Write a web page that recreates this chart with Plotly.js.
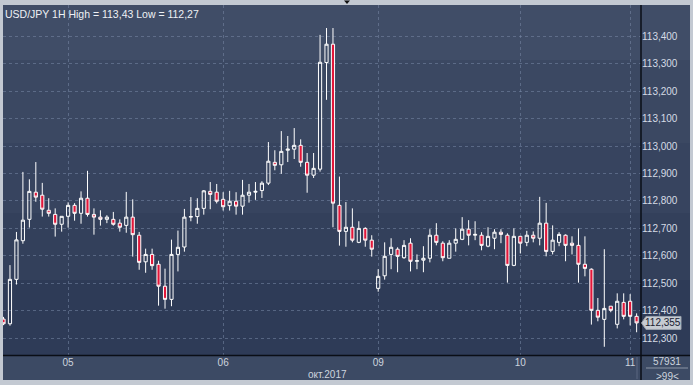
<!DOCTYPE html>
<html><head><meta charset="utf-8">
<script src="https://cdn.plot.ly/plotly-3.0.1.min.js"></script>
<style>html,body{margin:0;padding:0;background:#c3c9d2;}#chart{width:693px;height:385px;}</style>
</head><body><div id="chart"></div>
<script>
const symbol = 'USD/JPY 1H';
const openP = [112.369,112.352,112.514,112.655,112.733,112.832,112.821,112.766,112.751,112.715,
112.744,112.784,112.755,112.810,112.751,112.741,112.733,112.733,112.719,112.711,
112.741,112.675,112.578,112.605,112.569,112.489,112.441,112.605,112.632,112.741,
112.743,112.773,112.835,112.832,112.806,112.783,112.799,112.781,112.821,112.832,
112.838,112.865,112.941,112.932,112.985,112.989,113.003,112.941,112.894,112.916,
113.305,113.372,112.784,112.689,112.704,112.649,112.700,112.657,112.481,112.527,
112.605,112.624,112.593,112.646,112.580,112.584,112.591,112.675,112.646,112.591,
112.646,112.660,112.697,112.675,112.675,112.635,112.664,112.686,112.675,112.565,
112.671,112.649,112.675,112.664,112.719,112.616,112.649,112.675,112.646,112.638,
112.569,112.551,112.401,112.368,112.416,112.350,112.430,112.434,112.379];
const highP = [112.377,112.566,112.687,112.906,112.879,112.942,112.866,112.810,112.773,112.744,
112.795,112.792,112.835,112.910,112.773,112.766,112.748,112.760,112.733,112.833,
112.806,112.687,112.626,112.626,112.582,112.553,112.659,112.692,112.771,112.814,
112.810,112.840,112.869,112.862,112.832,112.837,112.832,112.877,112.862,112.869,
112.872,113.015,112.985,113.055,113.037,113.066,113.025,112.975,112.975,113.406,
113.431,113.431,112.889,112.796,112.773,112.726,112.704,112.675,112.551,112.649,
112.664,112.631,112.657,112.664,112.605,112.635,112.697,112.719,112.653,112.657,
112.700,112.741,112.730,112.726,112.686,112.704,112.697,112.697,112.682,112.700,
112.671,112.691,112.689,112.815,112.793,112.711,112.686,112.678,112.671,112.700,
112.671,112.554,112.446,112.624,112.416,112.463,112.463,112.460,112.390];
const lowP = [112.347,112.345,112.495,112.644,112.703,112.797,112.743,112.743,112.670,112.688,
112.703,112.728,112.717,112.743,112.677,112.710,112.719,112.710,112.688,112.684,
112.597,112.549,112.538,112.549,112.418,112.407,112.416,112.543,112.615,112.726,
112.717,112.750,112.770,112.791,112.765,112.765,112.750,112.750,112.794,112.804,
112.811,112.858,112.912,112.899,112.942,112.953,112.925,112.830,112.884,112.907,
113.169,112.704,112.637,112.633,112.649,112.646,112.633,112.597,112.469,112.513,
112.551,112.540,112.589,112.543,112.551,112.540,112.576,112.638,112.580,112.591,
112.615,112.657,112.638,112.657,112.620,112.631,112.624,112.646,112.502,112.562,
112.609,112.635,112.649,112.638,112.598,112.605,112.635,112.580,112.605,112.502,
112.525,112.349,112.361,112.268,112.394,112.335,112.368,112.346,112.321];
const closeP = [112.352,112.514,112.658,112.730,112.835,112.814,112.770,112.755,112.715,112.744,
112.784,112.755,112.810,112.751,112.741,112.733,112.741,112.715,112.704,112.741,
112.677,112.576,112.605,112.564,112.489,112.441,112.605,112.631,112.741,112.743,
112.773,112.837,112.824,112.799,112.779,112.799,112.781,112.821,112.832,112.835,
112.865,112.945,112.930,112.981,112.989,113.003,112.941,112.894,112.919,113.306,
113.372,112.792,112.689,112.704,112.657,112.700,112.657,112.624,112.525,112.598,
112.631,112.598,112.638,112.580,112.582,112.591,112.675,112.649,112.593,112.646,
112.660,112.697,112.675,112.678,112.638,112.671,112.686,112.678,112.565,112.671,
112.646,112.675,112.664,112.719,112.616,112.657,112.678,112.638,112.638,112.569,
112.554,112.401,112.376,112.408,112.401,112.434,112.379,112.379,112.355];
const dayTickIndex = [10, 34, 58, 80, 97];
const dayTickText = ['05', '06', '09', '10', '11'];
const monthLabel = 'окт.2017';
const priceTicks = [112.3,112.4,112.5,112.6,112.7,112.8,112.9,113.0,113.1,113.2,113.3,113.4];
const volumeText = '57931';
const counterText = '>99<';

const idx = openP.map((_, i) => i);
const fmt2 = v => v.toFixed(2).replace('.', ',');
const fmt3 = v => v.toFixed(3).replace('.', ',');
const hi = Math.max(...highP), lo = Math.min(...lowP);
const last = closeP[closeP.length - 1];

const PL = 3, PR = 641, PT = 5, PB = 355;
const Y0 = 112.238, Y1 = 113.515;
const xp = px => (px - PL) / (PR - PL);
const yp = py => (PB - py) / (PB - PT);
const lastP = (last - Y0) / (Y1 - Y0);
const hP = 6.5 / (PB - PT);

const bands = [[5,60,'#404d67'],[60,143,'#3b4862'],[143,213,'#37445f'],[213,280,'#33405b'],[280,356,'#2e3b57']];
const shapes = bands.map(b => ({type:'rect', xref:'paper', yref:'paper', x0:xp(3), x1:xp(690), y0:yp(b[1]), y1:yp(b[0]), fillcolor:b[2], line:{width:0}, layer:'below'}));
shapes.push({type:'rect', xref:'paper', yref:'paper', x0:xp(3), x1:xp(690), y0:yp(380), y1:yp(355), fillcolor:'#3c4a64', line:{width:0}, layer:'below'});
shapes.push({type:'line', xref:'paper', yref:'paper', x0:xp(3), x1:xp(690), y0:yp(355.5), y1:yp(355.5), line:{color:'#0a0e16', width:1.5}});
shapes.push({type:'line', xref:'paper', yref:'paper', x0:xp(641), x1:xp(641), y0:yp(5), y1:yp(380), line:{color:'#0a0e16', width:1.5}});
shapes.push({type:'line', xref:'paper', yref:'paper', x0:xp(637), x1:xp(637), y0:yp(357), y1:yp(379), line:{color:'#5b6780', width:1}});
shapes.push({type:'line', xref:'paper', yref:'paper', x0:xp(646), x1:xp(688), y0:yp(368), y1:yp(368), line:{color:'#8a94a5', width:1}});
shapes.push({type:'path', xref:'paper', yref:'paper', path:`M ${xp(344)} ${yp(0.5)} L ${xp(350)} ${yp(0.5)} L ${xp(347)} ${yp(4)} Z`, fillcolor:'#111', line:{width:0}});
// price marker
shapes.push({type:'path', xref:'paper', yref:'paper', path:`M ${xp(641.5)} ${lastP} L ${xp(646)} ${lastP+hP} L ${xp(681)} ${lastP+hP} L ${xp(681)} ${lastP-hP} L ${xp(646)} ${lastP-hP} Z`, fillcolor:'#c6cbd2', line:{color:'#9aa2ad', width:1}});

const trace = {
  type:'candlestick', x: idx, open: openP, high: highP, low: lowP, close: closeP,
  increasing:{line:{color:'#ffffff', width:1}, fillcolor:'rgba(0,0,0,0)'},
  decreasing:{line:{color:'#ffffff', width:1}, fillcolor:'#e2173a'},
  whiskerwidth: 0, hoverinfo:'skip'
};

const gridC = 'rgba(120,136,165,0.55)';
const ann = (px, py, text, color) => ({xref:'paper', yref:'paper', x:xp(px), y:yp(py), xanchor:'center', yanchor:'middle', text, showarrow:false, font:{size:10, color}});
const annotations = [
  ann(327, 374, monthLabel, '#cdd4de'),
  ann(667, 361, volumeText, '#cdd4de'),
  ann(667, 376, counterText, '#cdd4de'),
  {xref:'paper', yref:'paper', x:xp(663), y:lastP, xanchor:'center', yanchor:'middle', text:fmt3(last), showarrow:false, font:{size:10, color:'#1a2030'}}
];

const layout = {
  width:693, height:385,
  margin:{l:PL, r:693-PR, t:PT, b:385-PB, pad:0},
  paper_bgcolor:'#c3c9d2', plot_bgcolor:'rgba(0,0,0,0)',
  separators:',.',
  showlegend:false,
  font:{family:'Liberation Sans, Arial, sans-serif', size:10, color:'#d5dbe5'},
  title:{text:`${symbol} High = ${fmt2(hi)} Low = ${fmt2(lo)}`, xref:'container', yref:'container',
         x:5/693, xanchor:'left', y:1-14/385, yanchor:'middle', font:{size:10.5, color:'#eef1f5'}},
  xaxis:{range:[-0.08, 98.68], tickvals:dayTickIndex, ticktext:dayTickText, showgrid:true, gridcolor:gridC,
         griddash:'3px,3px', gridwidth:1, zeroline:false, showline:false, ticks:'', tickfont:{size:10, color:'#cdd4de'},
         rangeslider:{visible:false}, fixedrange:true},
  yaxis:{side:'right', range:[Y0, Y1], tickvals:priceTicks, tickformat:'.3f', showgrid:true, gridcolor:gridC,
         griddash:'3px,3px', gridwidth:1, zeroline:false, showline:false, ticks:'',
         tickfont:{size:10, color:'#d5dbe5'}, fixedrange:true},
  shapes: shapes,
  annotations: annotations
};
Plotly.newPlot('chart', [trace], layout, {staticPlot:true, displayModeBar:false});
</script></body></html>
